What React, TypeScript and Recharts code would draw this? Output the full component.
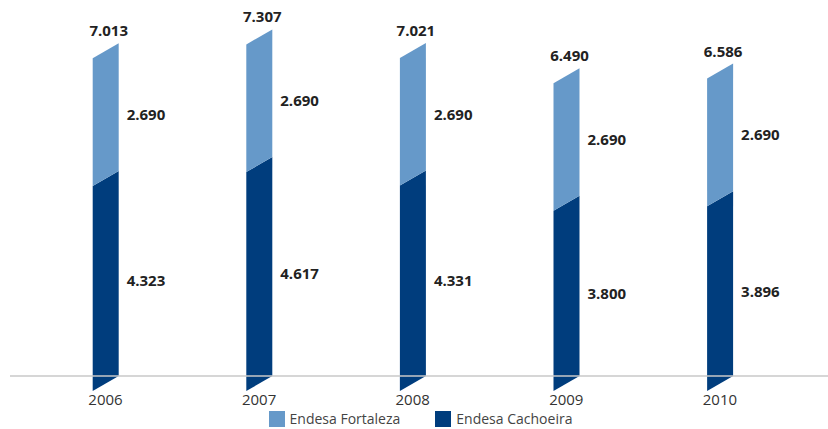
import React from "react";
import { Bar, BarChart, LabelList, Legend, XAxis, YAxis } from "recharts";

const years = ["2006", "2007", "2008", "2009", "2010"];
const cachoeira = [4323, 4617, 4331, 3800, 3896];
const fortaleza = [2690, 2690, 2690, 2690, 2690];

const LIGHT = "#6699c9";
const DARK = "#003d7d";
const SLANT = 15;
const FONT = "'Open Sans', 'Noto Sans', sans-serif";

const rows = years.map((year, i) => ({
  year,
  cachoeira: cachoeira[i],
  fortaleza: fortaleza[i],
}));

const fmt = (n: number) => String(n).replace(/\B(?=(\d{3})+(?!\d))/g, ".");

// slanted parallelogram: right edge follows the scale, left edge drops by SLANT
function SlantBar(props: any) {
  const { x, y, width, height, fill } = props;
  if (!width || height == null) return null;
  const pts = [
    [x + width, y],
    [x + width, y + height],
    [x, y + height + SLANT],
    [x, y + SLANT],
  ]
    .map((p) => p.join(","))
    .join(" ");
  return <polygon points={pts} fill={fill} />;
}

function SideLabel(props: any) {
  const { x, y, width, height, value } = props;
  return (
    <text
      x={x + width + 8}
      y={y + height / 2 + SLANT / 2 + 5.5}
      fill="#222"
      fontFamily={FONT}
      fontSize={15}
      fontWeight={700}
    >
      {fmt(value)}
    </text>
  );
}

function TotalLabel(props: any) {
  const { x, y, width, index } = props;
  const total = cachoeira[index] + fortaleza[index];
  return (
    <text
      x={x + width / 2 + 3}
      y={y - 7}
      fill="#222"
      textAnchor="middle"
      fontFamily={FONT}
      fontSize={15}
      fontWeight={700}
    >
      {fmt(total)}
    </text>
  );
}

function LegendBox() {
  const items = [
    { label: "Endesa Fortaleza", color: LIGHT },
    { label: "Endesa Cachoeira", color: DARK },
  ];
  return (
    <div
      style={{
        display: "flex",
        justifyContent: "center",
        gap: 35,
        paddingLeft: 13,
        fontFamily: FONT,
        fontSize: 14,
        color: "#444",
        lineHeight: "16px",
      }}
    >
      {items.map((it) => (
        <span key={it.label} style={{ display: "inline-flex", alignItems: "center" }}>
          <span
            style={{
              display: "inline-block",
              width: 16,
              height: 16,
              background: it.color,
              marginRight: 5,
            }}
          />
          {it.label}
        </span>
      ))}
    </div>
  );
}

export default function App() {
  return (
    <div style={{ width: 828, height: 429, background: "#fff" }}>
      <style>{"body{margin:0}"}</style>
      <BarChart
        width={828}
        height={429}
        data={rows}
        margin={{ top: 6, right: 0, left: 10, bottom: 28 }}
      >
        <XAxis
          dataKey="year"
          height={25}
          padding={{ left: 18.7, right: 31.3 }}
          axisLine={{ stroke: "#c8c8c8", strokeWidth: 1.5 }}
          tickLine={false}
          tickMargin={12}
          tick={{ fill: "#333", fontSize: 15, fontFamily: FONT }}
        />
        <YAxis hide domain={[0, 7800]} />
        <Legend
          verticalAlign="middle"
          wrapperStyle={{ top: 411, left: 0, width: 828 }}
          content={<LegendBox />}
        />
        <Bar
          dataKey="cachoeira"
          stackId="a"
          fill={DARK}
          barSize={26}
          shape={<SlantBar />}
          isAnimationActive={false}
        >
          <LabelList dataKey="cachoeira" content={<SideLabel />} />
        </Bar>
        <Bar
          dataKey="fortaleza"
          stackId="a"
          fill={LIGHT}
          barSize={26}
          shape={<SlantBar />}
          isAnimationActive={false}
        >
          <LabelList dataKey="fortaleza" content={<SideLabel />} />
          <LabelList dataKey="fortaleza" content={<TotalLabel />} />
        </Bar>
      </BarChart>
    </div>
  );
}
